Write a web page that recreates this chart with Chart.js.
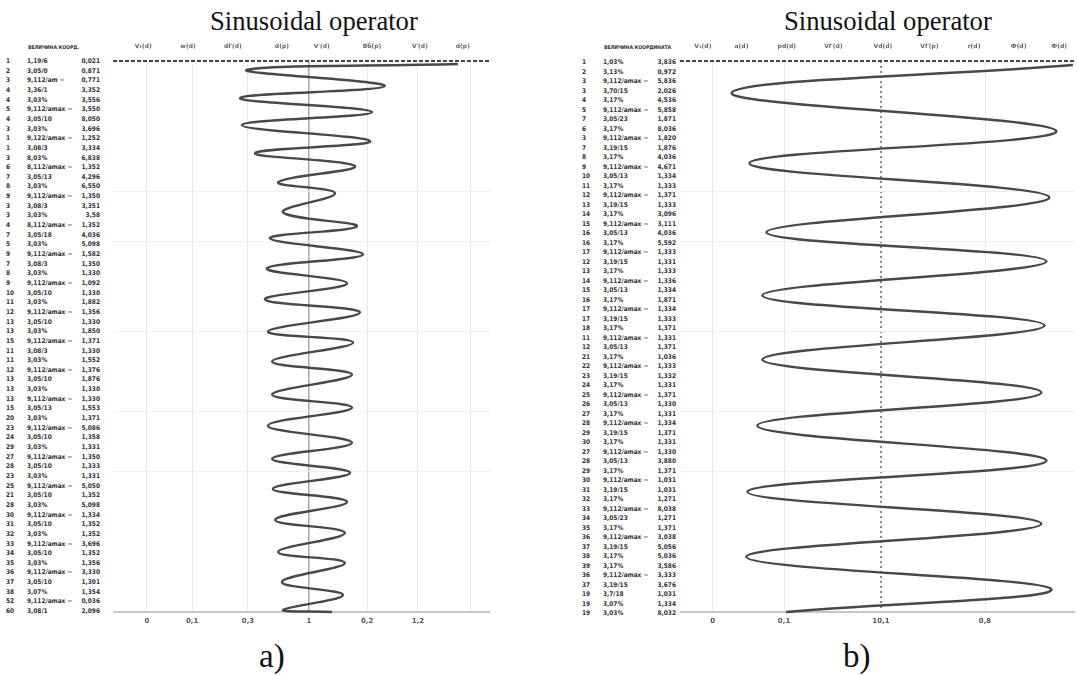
<!DOCTYPE html>
<html>
<head>
<meta charset="utf-8">
<script src="https://cdn.jsdelivr.net/npm/chart.js@4.4.0/dist/chart.umd.min.js"></script>
<style>
  body { margin: 0; background: #fff; width: 1078px; height: 675px; position: relative; overflow: hidden; }
  .serif { font-family: "Liberation Serif", "Times New Roman", "DejaVu Serif", serif; color: #111; }
  .title { position: absolute; font-size: 26px; line-height: 1; white-space: nowrap; }
  .tag { position: absolute; font-size: 33px; line-height: 1; white-space: nowrap; }
  .cell { position: absolute; font: bold 6.5px "DejaVu Sans Condensed", "DejaVu Sans", sans-serif; color: #333; white-space: nowrap; line-height: 8px; }
  .head { font-size: 5.2px; letter-spacing: -0.1px; }
  .right { text-align: right; width: 34px; }
  canvas { position: absolute; }
</style>
</head>
<body>
<div class="title serif" id="title-a">Sinusoidal operator</div>
<div class="title serif" id="title-b">Sinusoidal operator</div>
<div class="tag serif" id="tag-a">a)</div>
<div class="tag serif" id="tag-b">b)</div>
<div id="tables"></div>
<canvas id="chart-a" width="377" height="600" style="left:113px;top:36px"></canvas>
<canvas id="chart-b" width="398" height="600" style="left:680px;top:36px"></canvas>

<script>
// curve turning points (x in axis units, y in table rows)
const curveAX = [9.15, 3.55, 7.21, 3.37, 6.87, 3.42, 6.82, 3.77, 6.42, 4.38, 5.89, 4.51, 6.47, 4.16, 6.63, 4.08, 6.21, 4.03, 6.55, 4.11,
                 6.37, 4.22, 6.34, 4.22, 6.34, 4.11, 6.34, 4.22, 6.29, 4.24, 6.21, 4.30, 6.15, 4.38, 6.15, 4.48, 6.10, 4.51, 5.81]
const curveAY = [0.3, 0.9, 2.5, 3.7, 5.1, 6.4, 8.0, 9.2, 10.5, 12.1, 13.2, 15.1, 16.5, 17.7, 19.3, 20.7, 22.2, 23.8, 25.1, 27.0,
                 28.1, 30.0, 31.3, 33.3, 34.6, 36.4, 38.1, 39.7, 41.1, 42.7, 44.0, 45.8, 47.1, 49.0, 50.1, 52.0, 53.3, 54.8, 55.0]

const curveBX = [9.97, 1.31, 9.55, 1.76, 9.37, 2.19, 9.30, 2.09, 9.25, 2.09, 9.17, 1.96, 9.30, 1.71, 9.17, 1.68, 9.42, 2.69]
const curveBY = [0.4, 3.2, 7.0, 10.2, 13.6, 17.1, 20.0, 23.4, 26.4, 29.8, 33.1, 36.4, 39.9, 43.0, 46.2, 49.5, 52.7, 55.0]

// tick labels
const bottomLabelsA = ['0', '0,1', '0,3', '1', '0,2', '1,2']
const topLabelsA = ['V₁(d)', 'w(d)', 'dГ(d)', 'd(p)', 'V′(d)', 'Bб(p)', 'V′(d)', 'd(p)']
const bottomLabelsB = ['0', '0,1', '10,1', '0,8']
const topLabelsB = ['V₁(d)', 'a(d)', 'pd(d)', 'VГ(d)', 'Vd(d)', 'VГ(p)', 'r(d)', 'Ф(d)', 'Ф(d)']

// left-hand tables
const headA = 'ВЕЛИЧИНА  КООРД.'
const rowNumA = ['1','2','3','4','4','5','4','3','1','1','3','6','7','8','9','3','3','4','7','5','9','7','8','9','10','11','12','13','13','15',
                 '11','11','12','13','13','13','15','20','23','24','29','27','28','23','25','21','28','30','31','32','33','34','35','36','37','38','52','60']
const rowMidA = ['1,19/6','3,05/0','9,112/am   −','3,36/1','3,03%','9,112/amax −','3,05/10','3,03%','9,122/amax −','3,08/3',
                 '8,03%','8,112/amax −','3,05/13','3,03%','9,112/amax −','3,08/3','3,03%','8,112/amax −','3,05/18','3,03%',
                 '9,112/amax −','3,08/3','3,03%','9,112/amax −','3,05/10','3,03%','9,112/amax −','3,05/10','3,03%','9,112/amax −',
                 '3,08/3','3,03%','9,112/amax −','3,05/10','3,03%','9,112/amax −','3,05/13','3,03%','9,112/amax −','3,05/10',
                 '3,03%','9,112/amax −','3,05/10','3,03%','9,112/amax −','3,05/10','3,03%','9,112/amax −','3,05/10','3,03%',
                 '9,112/amax −','3,05/10','3,03%','9,112/amax −','3,05/10','3,07%','9,112/amax −','3,08/1']
const rowValA = ['0,021','0,871','0,771','3,352','3,556','3,550','8,050','3,696','1,252','3,334','6,838','1,352','4,296','6,550','1,350',
                 '3,351','3,58','1,352','4,036','5,098','1,582','1,350','1,330','1,092','1,330','1,882','1,356','1,330','1,850','1,371',
                 '1,330','1,552','1,376','1,876','1,330','1,330','1,553','1,371','5,086','1,358','1,331','1,350','1,333','1,331','5,050',
                 '1,352','5,098','1,334','1,352','1,352','3,696','1,352','1,356','3,330','1,301','1,354','0,036','2,096']

const headB = 'ВЕЛИЧИНА  КООРДИНАТА'
const rowNumB = ['1','2','3','3','4','5','7','6','3','7','8','9','10','11','12','13','14','15','16','16','17','12','13','14','15','16','17','17','18','11',
                 '12','21','22','23','24','25','26','27','28','29','30','27','28','29','30','31','32','33','34','35','36','37','38','39','36','37','19','19','19']
const rowMidB = ['1,03%','3,13%','9,112/amax −','3,70/15','3,17%','9,112/amax −','3,05/23','3,17%','9,112/amax −','3,19/15',
                 '3,17%','9,112/amax −','3,05/13','3,17%','9,112/amax −','3,19/15','3,17%','9,112/amax −','3,05/13','3,17%',
                 '9,112/amax −','3,19/15','3,17%','9,112/amax −','3,05/13','3,17%','9,112/amax −','3,19/15','3,17%','9,112/amax −',
                 '3,05/13','3,17%','9,112/amax −','3,19/15','3,17%','9,112/amax −','3,05/13','3,17%','9,112/amax −','3,19/15',
                 '3,17%','9,112/amax −','3,05/13','3,17%','9,112/amax −','3,19/15','3,17%','9,112/amax −','3,05/23','3,17%',
                 '9,112/amax −','3,19/15','3,17%','3,17%','9,112/amax −','3,19/15','3,7/18','3,07%','3,03%']
const rowValB = ['3,836','0,972','5,836','2,026','4,536','5,858','1,871','8,036','1,820','1,876','4,036','4,671','1,334','1,333','1,371',
                 '1,333','3,096','3,111','4,036','5,592','1,333','1,331','1,333','1,336','1,334','1,871','1,334','1,333','1,371','1,331',
                 '1,371','1,036','1,333','1,332','1,331','1,371','1,330','1,331','1,334','1,371','1,331','1,330','3,880','1,371','1,031',
                 '1,031','1,271','8,038','1,271','1,371','3,038','5,056','5,036','3,586','3,333','3,676','1,031','1,334','8,032']

// size the serif captions so they span what the scan shows
function place(id, cx, top, width) {
  const el = document.getElementById(id)
  if (width) {
    const fs = parseFloat(getComputedStyle(el).fontSize)
    el.style.fontSize = (fs * width / el.offsetWidth) + 'px'
  }
  el.style.left = (cx - el.offsetWidth / 2) + 'px'
  el.style.top = top + 'px'
}
place('title-a', 314, 8, 208)
place('title-b', 888, 8, 208)
place('tag-a', 272, 640, 0)
place('tag-b', 857, 640, 0)

function buildTable(head, nums, mids, vals, x0, y0, step) {
  const box = document.getElementById('tables')
  const add = (text, left, top, cls) => {
    const d = document.createElement('div')
    d.className = 'cell' + (cls ? ' ' + cls : '')
    d.textContent = text
    d.style.left = left + 'px'
    d.style.top = top + 'px'
    box.appendChild(d)
  }
  add(head, x0 + 22, 43, 'head')
  nums.forEach((n, i) => {
    const top = y0 + i * step - 4
    add(n, x0, top)
    add(mids[i] || '', x0 + 21, top)
    add(vals[i] || '', x0 + 60, top, 'right')
  })
}
buildTable(headA, rowNumA, rowMidA, rowValA, 6, 61, 9.65)
buildTable(headB, rowNumB, rowMidB, rowValB, 582, 62, 9.5)

function panel(id, xs, ys, bottomPos, bottomLabels, topPos, topLabels, centerIdx, dottedCenter) {
  const points = xs.map((x, i) => ({ x: x, y: ys[i] }))
  const cfg = {
    type: 'scatter',
    data: {
      datasets: [
        {
          data: points,
          showLine: true,
          borderColor: '#484848',
          borderWidth: 2.4,
          pointRadius: 0,
          tension: 0.4,
          clip: 6,
        },
      ],
    },
    options: {
      responsive: false,
      animation: false,
      layout: { padding: 0 },
      plugins: { legend: { display: false }, tooltip: { enabled: false } },
      scales: {
        x: {
          type: 'linear',
          position: 'bottom',
          min: 0,
          max: 10,
          afterBuildTicks: (s) => { s.ticks = bottomPos.map((v) => ({ value: v })) },
          afterFit: (s) => { s.height = 24 },
          ticks: {
            callback: (v, i) => bottomLabels[i] || '',
            font: { size: 7, family: 'DejaVu Sans', weight: 'bold' },
            color: '#555',
            padding: 5,
            autoSkip: false,
            maxRotation: 0,
          },
          grid: {
            drawTicks: false,
            color: (c) => c.index === centerIdx ? (dottedCenter ? '#8a8a8a' : '#a8a8a8') : '#e8e8e8',
            lineWidth: (c) => c.index === centerIdx ? (dottedCenter ? 2 : 1.5) : 1,
          },
          border: {
            color: '#c6c6c6',
            width: 2,
            dash: (c) => (dottedCenter && c.index === centerIdx) ? [2, 3] : [],
          },
        },
        x2: {
          type: 'linear',
          position: 'top',
          min: 0,
          max: 10,
          afterBuildTicks: (s) => { s.ticks = topPos.map((v) => ({ value: v })) },
          afterFit: (s) => { s.height = 25 },
          ticks: {
            callback: (v, i) => topLabels[i] || '',
            font: { size: 6, family: 'DejaVu Sans', weight: 'bold' },
            color: '#666',
            padding: 11,
            autoSkip: false,
            maxRotation: 0,
          },
          grid: { display: false, drawTicks: false },
          border: { display: false },
        },
        y: {
          type: 'linear',
          reverse: true,
          min: 0,
          max: 55,
          afterBuildTicks: (s) => { s.ticks = [0, 13, 18, 27, 35, 41].map((v) => ({ value: v })) },
          afterFit: (s) => { s.width = 0 },
          ticks: { display: false },
          grid: {
            drawTicks: false,
            color: (c) => c.index === 0 ? '#444' : '#f0f0f0',
            lineWidth: (c) => c.index === 0 ? 2 : 1,
          },
          border: { display: false, dash: (c) => c.index === 0 ? [4, 2] : [] },
        },
      },
    },
  }
  return new Chart(document.getElementById(id), cfg)
}

panel('chart-a', curveAX, curveAY,
  [0.90, 2.10, 3.58, 5.20, 6.74, 8.09, 9.47], bottomLabelsA,
  [0.80, 1.99, 3.18, 4.48, 5.54, 6.87, 8.14, 9.28], topLabelsA, 3, false)

panel('chart-b', curveBX, curveBY,
  [0.83, 2.64, 5.10, 7.74], bottomLabelsB,
  [0.58, 1.56, 2.71, 3.89, 5.15, 6.33, 7.46, 8.59, 9.62], topLabelsB, 2, true)
</script>
</body>
</html>
